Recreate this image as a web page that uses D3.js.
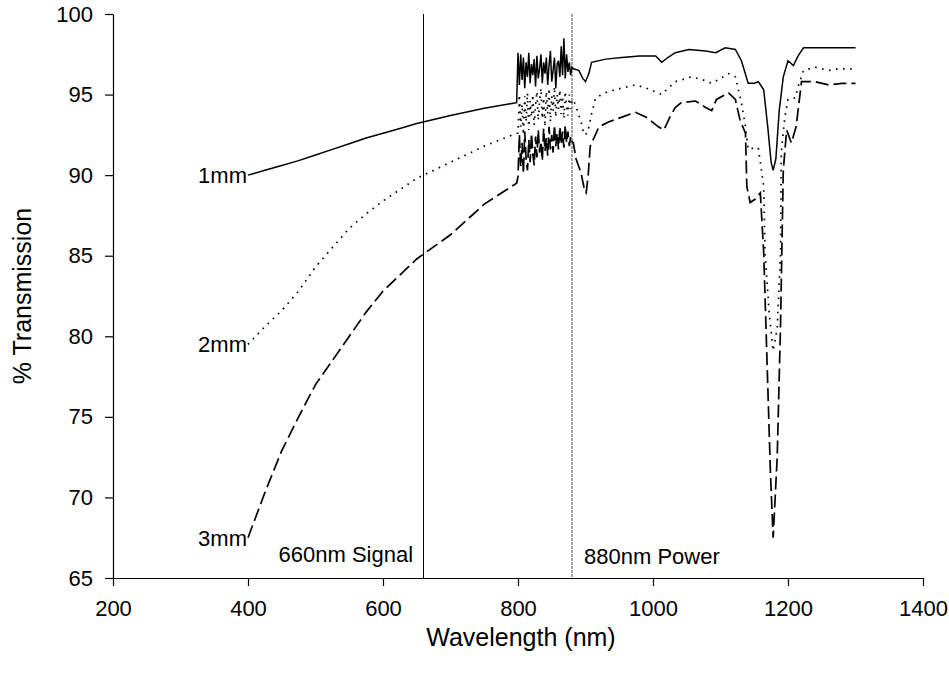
<!DOCTYPE html>
<html>
<head>
<meta charset="utf-8">
<script src="https://cdn.jsdelivr.net/npm/d3@7"></script>
<style>
    body { margin: 0; background: #fff; }
    text { font-family: "Liberation Sans", Arial, sans-serif; fill: #000; }
</style>
</head>
<body>
<script>
// transmission spectra for 3 sample thicknesses

const smoothWl = [400, 425, 450, 475, 500, 525, 550, 575, 600, 625, 650, 700, 750, 798]
const t1Smooth = [90.0, 90.3, 90.6, 90.9, 91.25, 91.6, 91.95, 92.3, 92.6, 92.9, 93.2, 93.7, 94.15, 94.5]
const t2Smooth = [79.5, 80.6, 81.6, 82.8, 84.3, 85.5, 86.7, 87.6, 88.4, 89.1, 89.8, 90.8, 91.8, 92.6]
const t3Smooth = [67.5, 70.3, 72.9, 75.0, 77.0, 78.5, 80.0, 81.5, 82.8, 83.8, 84.8, 86.3, 88.2, 89.5]

// noisy detector changeover region
const noiseWl = [800, 802, 804, 806, 808, 810, 812, 814, 816, 818, 820, 822, 824, 826, 828, 830, 832, 834, 836, 838,
    840, 842, 844, 846, 848, 850, 852, 854, 856, 858, 860, 862, 864, 866, 868, 870, 872, 874, 876, 878, 880]
const t1Noise = [97.6, 95.6, 97.5, 95.9, 97.3, 95.4, 97.0, 96.1, 97.6, 95.7, 96.9, 96.2, 97.2, 95.5, 97.4, 96.0, 96.6, 97.5, 95.7, 97.0,
    96.3, 97.3, 95.6, 96.8, 97.7, 95.8, 96.5, 97.3, 95.4, 96.9, 97.1, 96.1, 98.0, 96.2, 98.5, 96.0, 97.5, 96.4, 97.0, 96.2, 96.7]
const t2Noise = [92.6, 95.0, 93.0, 94.4, 92.5, 94.9, 93.3, 95.1, 92.8, 94.6, 93.6, 95.0, 93.1, 94.3, 95.2, 93.4, 94.6, 95.4, 93.5, 94.8,
    93.0, 95.2, 93.8, 95.4, 93.3, 94.9, 94.0, 95.5, 93.6, 95.0, 94.1, 95.3, 93.8, 94.9, 93.5, 95.2, 94.2, 93.7, 95.0, 94.1, 94.6]
const t3Noise = [89.9, 92.5, 90.5, 92.0, 90.1, 92.7, 91.0, 90.3, 92.2, 90.8, 92.6, 91.3, 90.6, 92.4, 91.1, 92.8, 91.4, 92.1, 90.9, 92.9,
    91.5, 92.3, 91.2, 93.0, 91.6, 92.5, 91.4, 93.1, 91.8, 92.6, 91.6, 93.0, 91.9, 92.7, 91.7, 93.1, 92.0, 92.7, 91.8, 92.4, 92.1]

// [wavelength, %T] beyond 880nm
const t1Tail = [[882, 96.6], [890, 96.5], [896, 96.0], [900, 95.8], [905, 96.3], [909, 97.0], [930, 97.2], [954, 97.3], [980, 97.4],
    [1004, 97.4], [1013, 97.0], [1022, 97.3], [1033, 97.6], [1053, 97.8], [1078, 97.7], [1093, 97.6], [1107, 97.9], [1122, 97.8],
    [1131, 97.1], [1141, 95.7], [1150, 95.7], [1156, 95.8], [1164, 95.3], [1170, 93.0], [1175, 90.8], [1178, 90.3], [1182, 91.0],
    [1187, 94.0], [1193, 96.1], [1200, 97.1], [1208, 96.8], [1215, 97.4], [1223, 97.9], [1264, 97.9], [1300, 97.9]]
const t2Tail = [[882, 94.7], [888, 94.0], [894, 93.2], [898, 92.5], [903, 92.6], [909, 93.8], [915, 94.8], [934, 95.2], [954, 95.4],
    [974, 95.6], [990, 95.4], [1008, 95.1], [1013, 95.0], [1020, 95.3], [1033, 95.8], [1057, 96.1], [1075, 95.9], [1087, 95.7],
    [1100, 96.0], [1112, 96.3], [1122, 96.1], [1131, 94.5], [1137, 93.0], [1141, 91.6], [1150, 91.7], [1156, 91.7], [1160, 90.5],
    [1164, 89.3], [1166, 85.2], [1172, 81.5], [1178, 79.1], [1184, 80.5], [1189, 85.2], [1190, 91.4], [1195, 93.5], [1200, 94.7],
    [1211, 94.8], [1215, 95.5], [1223, 96.5], [1240, 96.7], [1260, 96.5], [1275, 96.6], [1300, 96.6]]
const t3Tail = [[882, 92.0], [886, 91.0], [893, 90.2], [899, 89.0], [901, 88.9], [904, 90.0], [907, 91.8], [920, 93.0], [934, 93.3],
    [954, 93.6], [974, 93.9], [990, 93.6], [1008, 93.0], [1016, 92.8], [1025, 93.6], [1033, 94.2], [1042, 94.5], [1063, 94.6],
    [1078, 94.2], [1087, 94.0], [1094, 94.7], [1112, 95.1], [1122, 94.7], [1129, 93.4], [1137, 92.6], [1139, 89.3], [1144, 88.3],
    [1151, 88.5], [1159, 88.9], [1164, 85.2], [1174, 71.5], [1178, 67.5], [1184, 72.5], [1189, 80.8], [1193, 90.3], [1198, 92.8],
    [1205, 92.0], [1212, 93.0], [1220, 95.8], [1240, 95.8], [1260, 95.6], [1280, 95.7], [1300, 95.7]]

const xTicks = [200, 400, 600, 800, 1000, 1200, 1400]
const yTicks = [65, 70, 75, 80, 85, 90, 95, 100]
const markers = [{ wl: 660, label: "660nm Signal" }, { wl: 880, label: "880nm Power" }]
const seriesLabels = ["1mm", "2mm", "3mm"]

const width = 949,
    height = 676

const x = d3.scaleLinear().domain([200, 1400]).range([113, 923])
const y = d3.scaleLinear().domain([65, 100]).range([578, 14])

const join = (smooth, noise, tail) => smoothWl.map((w, i) => [w, smooth[i]])
    .concat(noiseWl.map((w, i) => [w, noise[i]]))
    .concat(tail)

const series = [
    { name: seriesLabels[0], data: join(t1Smooth, t1Noise, t1Tail), dash: null },
    { name: seriesLabels[1], data: join(t2Smooth, t2Noise, t2Tail), dash: "1.6,5.5" },
    { name: seriesLabels[2], data: join(t3Smooth, t3Noise, t3Tail), dash: "13,5" }
]

const svg = d3.select("body").append("svg")
    .attr("width", width)
    .attr("height", height)

// axes
svg.append("g")
    .attr("transform", `translate(0,${y(65)})`)
    .call(d3.axisBottom(x).tickValues(xTicks).tickFormat(d3.format("d"))
        .tickSize(8).tickSizeOuter(0).tickPadding(14))
    .call(g => g.selectAll("text").style("font-size", "22px"))

svg.append("g")
    .attr("transform", `translate(${x(200)},0)`)
    .call(d3.axisLeft(y).tickValues(yTicks).tickSize(8).tickSizeOuter(0).tickPadding(12))
    .call(g => g.selectAll("text").style("font-size", "22px"))

svg.selectAll(".domain, .tick line").attr("stroke", "#000").attr("stroke-width", 1.2)

// marker lines
svg.append("line")
    .attr("x1", x(660)).attr("x2", x(660))
    .attr("y1", y(100)).attr("y2", y(65))
    .attr("stroke", "#000").attr("stroke-width", 1)
svg.append("line")
    .attr("x1", x(880)).attr("x2", x(880))
    .attr("y1", y(100)).attr("y2", y(65))
    .attr("stroke", "#444").attr("stroke-width", 1)
    .attr("stroke-dasharray", "3,1")

svg.selectAll(".marker-label")
    .data(markers)
    .join("text")
    .attr("class", "marker-label")
    .attr("x", d => x(d.wl) + (d.wl === 660 ? -145 : 12))
    .attr("y", d => d.wl === 660 ? 562 : 564)
    .style("font-size", "22px")
    .text(d => d.label)

// spectra
const line = d3.line()
    .x(d => x(d[0]))
    .y(d => y(d[1]))

svg.selectAll(".spectrum")
    .data(series)
    .join("path")
    .attr("class", "spectrum")
    .attr("d", d => line(d.data))
    .attr("fill", "none")
    .attr("stroke", "#000")
    .attr("stroke-width", d => d.dash ? 1.7 : 1.5)
    .attr("stroke-dasharray", d => d.dash)

svg.selectAll(".series-label")
    .data(series)
    .join("text")
    .attr("class", "series-label")
    .attr("x", d => x(d.data[0][0]) - 1)
    .attr("y", d => y(d.data[0][1]) + 8)
    .attr("text-anchor", "end")
    .style("font-size", "22px")
    .text(d => d.name)

// titles
svg.append("text")
    .attr("x", 521)
    .attr("y", 646)
    .attr("text-anchor", "middle")
    .style("font-size", "25px")
    .text("Wavelength (nm)")

svg.append("text")
    .attr("transform", "translate(31,296) rotate(-90)")
    .attr("text-anchor", "middle")
    .style("font-size", "25px")
    .text("% Transmission")
</script>
</body>
</html>
